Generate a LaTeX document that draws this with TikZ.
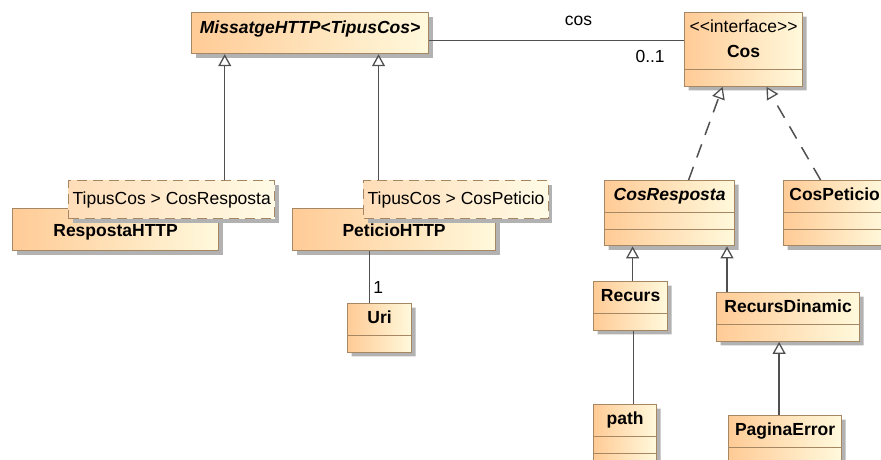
\documentclass[tikz,border=0pt]{standalone}
\usepackage{fontspec}
\setmainfont{Liberation Sans}
\usetikzlibrary{arrows.meta,shapes.multipart,shadows}

\definecolor{clsborder}{HTML}{A58764}
\definecolor{clsleft}{HTML}{FFCB96}
\definecolor{clsright}{HTML}{FFF9DC}
\definecolor{tplleft}{HTML}{FFDDB8}
\definecolor{tplright}{HTML}{FFFBE6}
\definecolor{linkgray}{HTML}{505050}

\begin{document}
\begin{tikzpicture}[
  x=1pt, y=-1pt,
  font=\fontsize{17.5}{21}\selectfont,
  cls/.style={draw=clsborder, line width=1.2pt, left color=clsleft, right color=clsright,
    anchor=north west, inner xsep=4pt, inner ysep=5pt, align=center,
    drop shadow={shadow xshift=4pt, shadow yshift=-4pt, fill=gray!60, opacity=1}},
  comp/.style={cls, rectangle split, rectangle split parts=#1,
    rectangle split empty part height=4pt, rectangle split empty part depth=0pt},
  tpl/.style={cls, dash pattern=on 10pt off 6pt, left color=tplleft, right color=tplright,
    minimum height=38pt},
  link/.style={draw=linkgray, line width=1.5pt},
  gen/.style={link, -{Triangle[length=12pt, width=13pt, fill=white, line width=1.3pt]}},
  real/.style={gen, dash pattern=on 14pt off 10pt},
  lbl/.style={inner sep=2pt},
]
  \useasboundingbox (0,0) rectangle (881,459);
  \clip (0,0) rectangle (881,459);

  % generic message and its two bindings
  \node[cls, minimum width=237pt, minimum height=41pt] (missatge) at (191,12) {\rule[-12pt]{0pt}{13pt}\textbf{\itshape MissatgeHTTP<TipusCos>}};
  \node[cls, minimum width=206pt, minimum height=42pt] (respHTTP) at (12,208) {\rule[-4pt]{0pt}{22pt}\textbf{RespostaHTTP}};
  \node[cls, minimum width=203pt, minimum height=42pt] (petHTTP) at (292,208) {\rule[-4pt]{0pt}{22pt}\textbf{PeticioHTTP}};
  \node[tpl, minimum width=206pt] (tplResp) at (68,180) {TipusCos > CosResposta};
  \node[tpl, minimum width=183pt] (tplPet) at (363,180) {TipusCos > CosPeticio};
  \node[comp=2, minimum width=64pt] (uri) at (347,303) {\strut\textbf{Uri}\nodepart{two}};

  % body interface and implementations
  \node[comp=2, minimum width=118pt] (cos) at (684,12) {\strut<{}<interface>{}>\\[4pt]\strut\textbf{Cos}\nodepart{two}};
  \node[comp=3, minimum width=130pt] (cosResp) at (604,180) {\strut\textbf{\itshape CosResposta}\nodepart{two}\nodepart{three}};
  \node[comp=3, minimum width=102pt] (cosPet) at (783,180) {\strut\textbf{CosPeticio}\nodepart{two}\nodepart{three}};
  \node[comp=2, minimum width=74pt] (recurs) at (593,281) {\strut\textbf{Recurs}\nodepart{two}};
  \node[comp=2, minimum width=143pt] (recDyn) at (716,292) {\strut\textbf{RecursDinamic}\nodepart{two}};
  \node[comp=3, minimum width=63pt] (pathC) at (593,404) {\strut\textbf{path}\nodepart{two}\nodepart{three}};
  \node[comp=3, minimum width=113pt] (pagErr) at (728,415) {\strut\textbf{PaginaError}\nodepart{two}\nodepart{three}};

  % connectors
  \draw[gen] ([xshift=53pt]tplResp.north) -- ([xshift=53pt]tplResp.north |- missatge.south);
  \draw[gen] ([xshift=-77.5pt]tplPet.north) -- ([xshift=-77.5pt]tplPet.north |- missatge.south);
  \draw[link] ([yshift=-7.5pt]missatge.east) -- ([yshift=-7.5pt]missatge.east -| cos.west)
    node[lbl, pos=.586, above=12pt] {cos}
    node[lbl, pos=.867, below=7pt] {0..1};
  \draw[link] ([xshift=-10pt]uri.north) -- ([xshift=-10pt]uri.north |- petHTTP.south)
    node[lbl, pos=.3, right=1pt] {1};
  \draw[real] ([xshift=19pt]cosResp.north) -- ([xshift=-21pt]cos.south);
  \draw[real] ([xshift=-14pt]cosPet.north) -- ([xshift=23pt]cos.south);
  \draw[gen] ([xshift=2pt]recurs.north) -- ([xshift=2pt]recurs.north |- cosResp.south);
  \draw[gen] ([xshift=11pt]recDyn.north west) -- ([xshift=11pt]recDyn.north west |- cosResp.south);
  \draw[gen] ([xshift=-6pt]pagErr.north) -- ([xshift=-6pt]pagErr.north |- recDyn.south);
  \draw[link] ([xshift=3pt]recurs.south) -- ([xshift=3pt]recurs.south |- pathC.north);
\end{tikzpicture}
\end{document}
